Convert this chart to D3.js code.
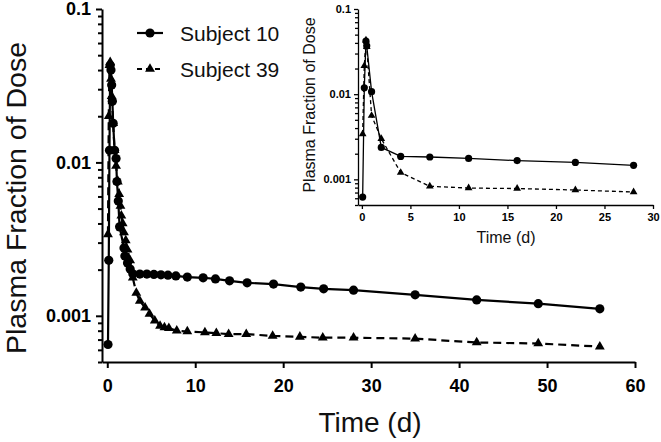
<!DOCTYPE html>
<html>
<head>
<meta charset="utf-8">
<script src="https://cdn.jsdelivr.net/npm/d3@7"></script>
<style>
  body { margin: 0; background: #fff; }
  svg { display: block; background: #fff; }
</style>
</head>
<body>
<script>
var FONT = 'Arial, "Liberation Sans", Helvetica, sans-serif';

var seriesNames = ['Subject 10', 'Subject 39'];

// main panel, days vs plasma fraction of dose
var time10 = [0.08, 0.17, 0.25, 0.33, 0.42, 0.5, 0.58, 0.67, 0.83, 1.0,
              1.1, 1.25, 1.4, 1.9, 2.0, 2.3, 2.6, 2.9, 3.7, 4.5,
              5.3, 6.1, 6.9, 7.8, 9.1, 10.9, 12.3, 13.9, 15.9, 18.9,
              22, 24.6, 28, 35, 42, 49, 56];
var plasma10 = [0.00065, 0.0023, 0.012, 0.043, 0.04, 0.032, 0.025, 0.018, 0.012, 0.0106,
                0.0075, 0.0056, 0.0038, 0.00277, 0.00245, 0.00221, 0.00202, 0.00188, 0.00187, 0.00187,
                0.00186, 0.00185, 0.00184, 0.00182, 0.00179, 0.00177, 0.00174, 0.00169, 0.00164, 0.00161,
                0.00154, 0.0015, 0.00147, 0.00137, 0.00127, 0.0012, 0.00111];

var time39 = [0.08, 0.17, 0.25, 0.33, 0.42, 0.5, 0.67, 0.83, 1.0,
              1.2, 1.35, 1.5, 1.6, 1.75, 1.9, 2.1, 2.3, 2.6, 2.9,
              3.3, 3.7, 4.3, 4.8, 5.4, 6.0, 6.5, 7.0, 7.9,
              9.1, 11.1, 12.4, 13.8, 15.8, 18.8, 21.9, 24.5, 28,
              35, 42, 49, 56];
var plasma39 = [0.0034, 0.02, 0.043, 0.045, 0.035, 0.027, 0.018, 0.012, 0.0095,
                0.0075, 0.0062, 0.0052, 0.0045, 0.004, 0.0035, 0.0031, 0.0027, 0.0023, 0.00177,
                0.00141, 0.00125, 0.00113, 0.00103, 0.00093, 0.00086, 0.00084, 0.00083, 0.0008,
                0.00079, 0.00078, 0.00077, 0.00076, 0.00076, 0.00074, 0.00073, 0.00072, 0.00072,
                0.00071, 0.00067, 0.00066, 0.00063];

// inset panel, first 28 days
var insetTime10 = [0.08, 0.25, 0.42, 0.5, 1, 2, 4, 7, 11, 16, 22, 28];
var insetPlasma10 = [0.00062, 0.0119, 0.042, 0.037, 0.0107, 0.00237, 0.00186, 0.00183, 0.00176, 0.00166, 0.00158, 0.00146];
var insetTime39 = [0.08, 0.25, 0.42, 0.5, 1, 2, 4, 7, 11, 16, 22, 28];
var insetPlasma39 = [0.0034, 0.0215, 0.043, 0.036, 0.0056, 0.003, 0.0012, 0.00083, 0.00079, 0.00078, 0.00075, 0.00071];

var yDomain = [0.0005, 0.1];
var yMajorTicks = [0.1, 0.01, 0.001];
var yTickLabels = ['0.1', '0.01', '0.001'];
var mainXTicks = [0, 10, 20, 30, 40, 50, 60];
var insetXTicks = [0, 5, 10, 15, 20, 25, 30];

var svg = d3.select('body').append('svg')
    .attr('width', 661)
    .attr('height', 442);

function zip(ts, vs) {
  return ts.map(function(t, i) { return { t: t, v: vs[i] }; });
}

function minorTicks(domain) {
  var out = [];
  for (var e = -4; e <= -1; e++) {
    for (var m = 2; m < 10; m++) {
      var v = +(m * Math.pow(10, e)).toPrecision(6);
      if (v >= domain[0] * 0.999 && v <= domain[1] * 1.001) out.push(v);
    }
  }
  return out;
}

function styleAxis(a, sw, fontSize) {
  a.attr('font-family', FONT);
  a.selectAll('path, line').attr('stroke', '#000').attr('stroke-width', sw);
  a.selectAll('text')
    .attr('fill', '#000')
    .attr('font-size', fontSize)
    .attr('font-weight', 'bold');
}

function logPanel(cfg) {
  var x = d3.scaleLinear().domain(cfg.xDomain).range([cfg.left, cfg.right]);
  var y = d3.scaleLog().domain(yDomain).range([cfg.bottom, cfg.top]);
  var g = svg.append('g');

  // minor y ticks first, then major ticks with the axis line
  g.append('g')
      .attr('transform', 'translate(' + cfg.left + ',0)')
      .call(d3.axisLeft(y).tickValues(minorTicks(yDomain)).tickSize(cfg.minorTick).tickFormat(''))
      .call(function(a) { a.select('.domain').remove(); styleAxis(a, cfg.axisWidth, 0); });

  g.append('g')
      .attr('transform', 'translate(' + cfg.left + ',0)')
      .call(d3.axisLeft(y).tickValues(yMajorTicks).tickSize(cfg.majorTick).tickSizeOuter(0)
        .tickPadding(cfg.yPad)
        .tickFormat(function(d, i) { return yTickLabels[i]; }))
      .call(function(a) { styleAxis(a, cfg.axisWidth, cfg.tickFont); });

  g.append('g')
      .attr('transform', 'translate(0,' + cfg.bottom + ')')
      .call(d3.axisBottom(x).tickValues(cfg.xTicks).tickSize(cfg.majorTick).tickSizeOuter(0)
        .tickPadding(cfg.xPad)
        .tickFormat(d3.format('d')))
      .call(function(a) { styleAxis(a, cfg.axisWidth, cfg.tickFont); });

  var line = d3.line()
      .x(function(d) { return x(d.t); })
      .y(function(d) { return y(d.v); });

  var s10 = zip(cfg.t10, cfg.v10), s39 = zip(cfg.t39, cfg.v39);

  g.append('path')
      .datum(s39)
      .attr('fill', 'none')
      .attr('stroke', '#000')
      .attr('stroke-width', cfg.lineWidth)
      .attr('stroke-dasharray', cfg.dash)
      .attr('d', line);

  g.append('path')
      .datum(s10)
      .attr('fill', 'none')
      .attr('stroke', '#000')
      .attr('stroke-width', cfg.lineWidth)
      .attr('d', line);

  g.append('g').selectAll('path')
      .data(s39)
      .enter().append('path')
        .attr('d', d3.symbol().type(d3.symbolTriangle).size(cfg.triSize))
        .attr('transform', function(d) { return 'translate(' + x(d.t) + ',' + y(d.v) + ')'; })
        .attr('fill', '#000');

  g.append('g').selectAll('circle')
      .data(s10)
      .enter().append('circle')
        .attr('cx', function(d) { return x(d.t); })
        .attr('cy', function(d) { return y(d.v); })
        .attr('r', cfg.r)
        .attr('fill', '#000');

  g.append('text')
      .attr('x', cfg.xLabel[0])
      .attr('y', cfg.xLabel[1])
      .attr('text-anchor', 'middle')
      .attr('font-family', FONT)
      .attr('font-size', cfg.xLabelFont)
      .attr('fill', '#111')
      .text('Time (d)');

  g.append('text')
      .attr('transform', 'translate(' + cfg.yLabel[0] + ',' + cfg.yLabel[1] + ') rotate(-90)')
      .attr('text-anchor', 'middle')
      .attr('font-family', FONT)
      .attr('font-size', cfg.yLabelFont)
      .attr('fill', '#111')
      .text('Plasma Fraction of Dose');

  return g;
}

logPanel({
  xDomain: [-0.6, 60], left: 102, right: 635, top: 9, bottom: 362,
  xTicks: mainXTicks, majorTick: 6, minorTick: 4, yPad: 5, xPad: 11,
  axisWidth: 2, tickFont: 18, lineWidth: 2.2, dash: '8,5',
  r: 4.6, triSize: 42,
  t10: time10, v10: plasma10, t39: time39, v39: plasma39,
  xLabel: [370, 432], xLabelFont: 28,
  yLabel: [26, 198], yLabelFont: 28.5
});

logPanel({
  xDomain: [-0.4, 30], left: 358, right: 653, top: 9, bottom: 205,
  xTicks: insetXTicks, majorTick: 4, minorTick: 3, yPad: 3, xPad: 4,
  axisWidth: 1.3, tickFont: 11, lineWidth: 1.3, dash: '4,3',
  r: 3.6, triSize: 26,
  t10: insetTime10, v10: insetPlasma10, t39: insetTime39, v39: insetPlasma39,
  xLabel: [506, 243], xLabelFont: 16,
  yLabel: [315, 105], yLabelFont: 16
});

// legend
var legend = svg.append('g').attr('font-family', FONT);
var legendRows = [33, 69];

seriesNames.forEach(function(name, i) {
  var row = legend.append('g').attr('transform', 'translate(0,' + legendRows[i] + ')');
  row.append('line')
      .attr('x1', 137).attr('x2', 163)
      .attr('stroke', '#000')
      .attr('stroke-width', 2.2)
      .attr('stroke-dasharray', i === 1 ? '5,4' : null);
  if (i === 0) {
    row.append('circle').attr('cx', 150).attr('r', 4.6).attr('fill', '#000');
  } else {
    row.append('path')
        .attr('d', d3.symbol().type(d3.symbolTriangle).size(42))
        .attr('transform', 'translate(150,0)')
        .attr('fill', '#000');
  }
  row.append('text')
      .attr('x', 180)
      .attr('y', 7.5)
      .attr('font-size', 21)
      .attr('fill', '#111')
      .text(name);
});
</script>
</body>
</html>
